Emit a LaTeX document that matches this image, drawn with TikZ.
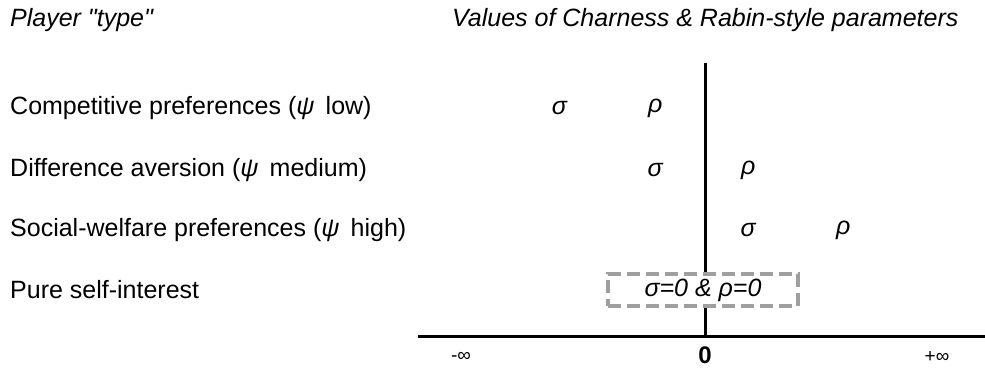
\documentclass[tikz,border=0pt]{standalone}
\usepackage{fontspec}
\setmainfont{Liberation Sans}
\begin{document}
\begin{tikzpicture}[x=1pt, y=-1pt, font=\fontsize{25}{30}\selectfont]
	% Define main parameters
	\def\ox{705}   % x of the zero point
	\def\oy{336}   % y of the horizontal axis
	\def\u{94}     % step between parameter columns
	\tikzset{
		rowlabel/.style={anchor=west, inner sep=0pt},
		param/.style={font=\fontsize{25}{30}\selectfont\itshape, inner sep=0pt},
		axisline/.style={line width=3pt},
		endlabel/.style={font=\fontsize{19}{22}\selectfont, inner sep=0pt}
	}
	\useasboundingbox (0,0) rectangle (985,371);
	
	% Axis end points
	\coordinate (L) at (418,\oy);
	\coordinate (R) at (985,\oy);
	\coordinate (O) at (\ox,\oy);
	\coordinate (T) at (\ox,63);
	
	% Draw axes
	\draw[axisline] (L) -- (R);
	\draw[axisline] (O) -- (T);
	
	% Headings
	\node[rowlabel, font=\fontsize{25}{30}\selectfont\itshape] (typehead) at (10,20) {Player \textquotedbl type\textquotedbl};
	\node[rowlabel, font=\fontsize{25}{30}\selectfont\itshape] (valhead) at (452,20) {Values of Charness \& Rabin-style parameters};
	
	% Row labels
	\node[rowlabel] (comp) at (10,108) {Competitive preferences (\textit{ψ}\, low)};
	\node[rowlabel] (diff) at (10,170) {Difference aversion (\textit{ψ}\, medium)};
	\node[rowlabel] (social) at (10,230) {Social-welfare preferences (\textit{ψ}\, high)};
	\node[rowlabel] (pure) at (10,290) {Pure self-interest};
	
	% Parameter positions
	\node[param] (sigcomp) at (\ox-1.55*\u,108) {σ};
	\node[param] (rhocomp) at (\ox-0.53*\u,108) {ρ};
	\node[param] (sigdiff) at (\ox-0.53*\u,170) {σ};
	\node[param] (rhodiff) at (\ox+0.46*\u,170) {ρ};
	\node[param] (sigsocial) at (\ox+0.46*\u,230) {σ};
	\node[param] (rhosocial) at (\ox+1.47*\u,230) {ρ};
	
	% Self-interest box
	\node[param, draw=gray!75, fill=white, line width=3.5pt, dash pattern=on 13pt off 6pt,
		minimum width=190, minimum height=32] (zero) at (703,290) {σ=0 \& ρ=0};
	
	% Axis labels
	\node[endlabel] (minf) at (461,357) {-∞};
	\node[inner sep=0pt, font=\fontsize{24}{28}\selectfont\bfseries] (zlab) at (\ox,355) {0};
	\node[endlabel] (pinf) at (937,357) {+∞};
\end{tikzpicture}
\end{document}
